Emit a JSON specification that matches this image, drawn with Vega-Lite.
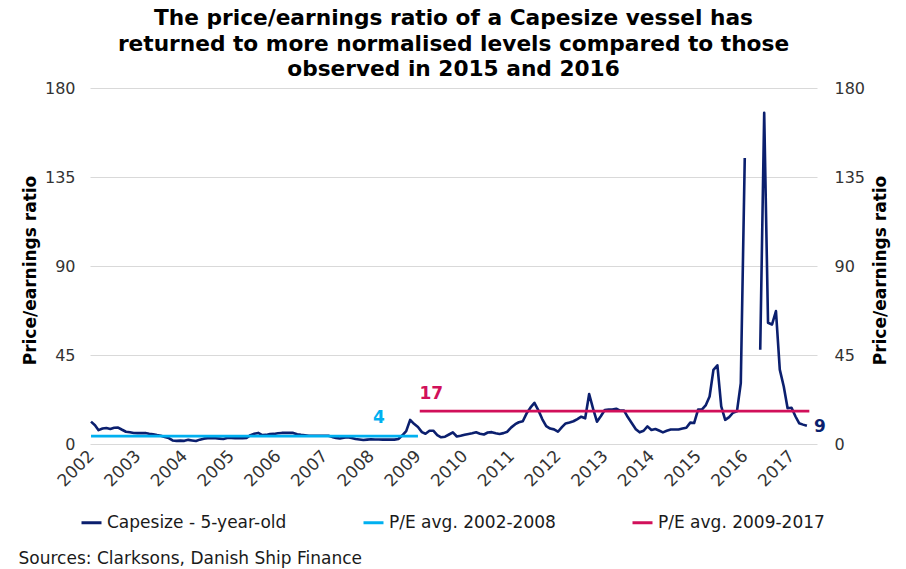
{
  "$schema": "https://vega.github.io/schema/vega-lite/v6.json",
  "autosize": {"type": "none"},
  "width": 727,
  "height": 356,
  "padding": {"left": 90, "top": 88, "right": 89, "bottom": 125},
  "background": "white",
  "config": {
    "view": {"stroke": null},
    "font": "DejaVu Sans",
    "axis": {"labelFont": "DejaVu Sans", "titleFont": "DejaVu Sans"},
    "legend": {"labelFont": "DejaVu Sans", "labelLimit": 400}
  },
  "title": {
    "text": ["The price/earnings ratio of a Capesize vessel has", "returned to more normalised levels compared to those", "observed in 2015 and 2016"],
    "font": "DejaVu Sans",
    "fontSize": 21.7,
    "fontWeight": "bold",
    "lineHeight": 25.5,
    "anchor": "middle",
    "color": "#000000",
    "offset": -1
  },
  "layer": [
    {
      "data": {"values": [
        {"date": "2002-01-01", "pe": 11.3}, {"date": "2002-02-01", "pe": 9.5}, {"date": "2002-03-01", "pe": 7.0}, {"date": "2002-04-01", "pe": 7.8}, {"date": "2002-05-01", "pe": 8.1}, {"date": "2002-06-01", "pe": 7.6}, {"date": "2002-07-01", "pe": 8.2}, {"date": "2002-08-01", "pe": 8.3}, {"date": "2002-09-01", "pe": 7.2}, {"date": "2002-10-01", "pe": 6.2}, {"date": "2002-11-01", "pe": 5.9}, {"date": "2002-12-01", "pe": 5.6},
        {"date": "2003-01-01", "pe": 5.5}, {"date": "2003-02-01", "pe": 5.5}, {"date": "2003-03-01", "pe": 5.6}, {"date": "2003-04-01", "pe": 5.2}, {"date": "2003-05-01", "pe": 4.9}, {"date": "2003-06-01", "pe": 4.5}, {"date": "2003-07-01", "pe": 4.2}, {"date": "2003-08-01", "pe": 3.6}, {"date": "2003-09-01", "pe": 3.0}, {"date": "2003-10-01", "pe": 1.8}, {"date": "2003-11-01", "pe": 1.6}, {"date": "2003-12-01", "pe": 1.7},
        {"date": "2004-01-01", "pe": 1.6}, {"date": "2004-02-01", "pe": 2.1}, {"date": "2004-03-01", "pe": 1.8}, {"date": "2004-04-01", "pe": 1.5}, {"date": "2004-05-01", "pe": 2.2}, {"date": "2004-06-01", "pe": 2.7}, {"date": "2004-07-01", "pe": 2.9}, {"date": "2004-08-01", "pe": 3.0}, {"date": "2004-09-01", "pe": 2.9}, {"date": "2004-10-01", "pe": 2.7}, {"date": "2004-11-01", "pe": 2.5}, {"date": "2004-12-01", "pe": 3.0},
        {"date": "2005-01-01", "pe": 3.0}, {"date": "2005-02-01", "pe": 2.9}, {"date": "2005-03-01", "pe": 2.9}, {"date": "2005-04-01", "pe": 2.9}, {"date": "2005-05-01", "pe": 3.0}, {"date": "2005-06-01", "pe": 4.5}, {"date": "2005-07-01", "pe": 5.2}, {"date": "2005-08-01", "pe": 5.6}, {"date": "2005-09-01", "pe": 4.5}, {"date": "2005-10-01", "pe": 4.6}, {"date": "2005-11-01", "pe": 5.0}, {"date": "2005-12-01", "pe": 5.1},
        {"date": "2006-01-01", "pe": 5.4}, {"date": "2006-02-01", "pe": 5.6}, {"date": "2006-03-01", "pe": 5.6}, {"date": "2006-04-01", "pe": 5.6}, {"date": "2006-05-01", "pe": 5.6}, {"date": "2006-06-01", "pe": 4.9}, {"date": "2006-07-01", "pe": 4.6}, {"date": "2006-08-01", "pe": 4.4}, {"date": "2006-09-01", "pe": 4.2}, {"date": "2006-10-01", "pe": 4.2}, {"date": "2006-11-01", "pe": 4.2}, {"date": "2006-12-01", "pe": 4.2},
        {"date": "2007-01-01", "pe": 4.2}, {"date": "2007-02-01", "pe": 4.2}, {"date": "2007-03-01", "pe": 3.6}, {"date": "2007-04-01", "pe": 3.1}, {"date": "2007-05-01", "pe": 2.8}, {"date": "2007-06-01", "pe": 3.2}, {"date": "2007-07-01", "pe": 3.4}, {"date": "2007-08-01", "pe": 3.0}, {"date": "2007-09-01", "pe": 2.5}, {"date": "2007-10-01", "pe": 2.3}, {"date": "2007-11-01", "pe": 2.0}, {"date": "2007-12-01", "pe": 2.2},
        {"date": "2008-01-01", "pe": 2.4}, {"date": "2008-02-01", "pe": 2.3}, {"date": "2008-03-01", "pe": 2.3}, {"date": "2008-04-01", "pe": 2.2}, {"date": "2008-05-01", "pe": 2.2}, {"date": "2008-06-01", "pe": 2.2}, {"date": "2008-07-01", "pe": 2.2}, {"date": "2008-08-01", "pe": 2.5}, {"date": "2008-09-01", "pe": 4.4}, {"date": "2008-10-01", "pe": 6.5}, {"date": "2008-11-01", "pe": 12.2}, {"date": "2008-12-01", "pe": 10.2},
        {"date": "2009-01-01", "pe": 8.6}, {"date": "2009-02-01", "pe": 6.0}, {"date": "2009-03-01", "pe": 5.2}, {"date": "2009-04-01", "pe": 6.7}, {"date": "2009-05-01", "pe": 6.7}, {"date": "2009-06-01", "pe": 4.5}, {"date": "2009-07-01", "pe": 3.4}, {"date": "2009-08-01", "pe": 3.7}, {"date": "2009-09-01", "pe": 4.8}, {"date": "2009-10-01", "pe": 5.9}, {"date": "2009-11-01", "pe": 3.8}, {"date": "2009-12-01", "pe": 4.2},
        {"date": "2010-01-01", "pe": 4.7}, {"date": "2010-02-01", "pe": 5.1}, {"date": "2010-03-01", "pe": 5.4}, {"date": "2010-04-01", "pe": 5.9}, {"date": "2010-05-01", "pe": 5.2}, {"date": "2010-06-01", "pe": 4.8}, {"date": "2010-07-01", "pe": 5.8}, {"date": "2010-08-01", "pe": 6.0}, {"date": "2010-09-01", "pe": 5.4}, {"date": "2010-10-01", "pe": 5.1}, {"date": "2010-11-01", "pe": 5.5}, {"date": "2010-12-01", "pe": 6.2},
        {"date": "2011-01-01", "pe": 8.4}, {"date": "2011-02-01", "pe": 10.0}, {"date": "2011-03-01", "pe": 11.0}, {"date": "2011-04-01", "pe": 11.5}, {"date": "2011-05-01", "pe": 15.5}, {"date": "2011-06-01", "pe": 18.5}, {"date": "2011-07-01", "pe": 20.8}, {"date": "2011-08-01", "pe": 17.0}, {"date": "2011-09-01", "pe": 12.5}, {"date": "2011-10-01", "pe": 9.0}, {"date": "2011-11-01", "pe": 7.8}, {"date": "2011-12-01", "pe": 7.4},
        {"date": "2012-01-01", "pe": 6.2}, {"date": "2012-02-01", "pe": 8.5}, {"date": "2012-03-01", "pe": 10.4}, {"date": "2012-04-01", "pe": 10.9}, {"date": "2012-05-01", "pe": 11.5}, {"date": "2012-06-01", "pe": 12.6}, {"date": "2012-07-01", "pe": 13.8}, {"date": "2012-08-01", "pe": 13.0}, {"date": "2012-09-01", "pe": 25.3}, {"date": "2012-10-01", "pe": 18.0}, {"date": "2012-11-01", "pe": 11.3}, {"date": "2012-12-01", "pe": 14.0},
        {"date": "2013-01-01", "pe": 17.2}, {"date": "2013-02-01", "pe": 17.4}, {"date": "2013-03-01", "pe": 17.4}, {"date": "2013-04-01", "pe": 17.8}, {"date": "2013-05-01", "pe": 16.9}, {"date": "2013-06-01", "pe": 16.9}, {"date": "2013-07-01", "pe": 13.5}, {"date": "2013-08-01", "pe": 10.5}, {"date": "2013-09-01", "pe": 7.5}, {"date": "2013-10-01", "pe": 5.9}, {"date": "2013-11-01", "pe": 6.7}, {"date": "2013-12-01", "pe": 8.9},
        {"date": "2014-01-01", "pe": 7.1}, {"date": "2014-02-01", "pe": 7.6}, {"date": "2014-03-01", "pe": 6.8}, {"date": "2014-04-01", "pe": 5.9}, {"date": "2014-05-01", "pe": 6.7}, {"date": "2014-06-01", "pe": 7.3}, {"date": "2014-07-01", "pe": 7.3}, {"date": "2014-08-01", "pe": 7.3}, {"date": "2014-09-01", "pe": 7.8}, {"date": "2014-10-01", "pe": 8.2}, {"date": "2014-11-01", "pe": 10.8}, {"date": "2014-12-01", "pe": 10.6},
        {"date": "2015-01-01", "pe": 17.4}, {"date": "2015-02-01", "pe": 17.5}, {"date": "2015-03-01", "pe": 19.5}, {"date": "2015-04-01", "pe": 24.0}, {"date": "2015-05-01", "pe": 37.5}, {"date": "2015-06-01", "pe": 39.8}, {"date": "2015-07-01", "pe": 19.0}, {"date": "2015-08-01", "pe": 12.2}, {"date": "2015-09-01", "pe": 13.6}, {"date": "2015-10-01", "pe": 15.8}, {"date": "2015-11-01", "pe": 16.5}, {"date": "2015-12-01", "pe": 30.8},
        {"date": "2016-01-01", "pe": 144.6}, {"date": "2016-02-01", "pe": null}, {"date": "2016-03-01", "pe": null}, {"date": "2016-04-01", "pe": null}, {"date": "2016-05-01", "pe": 47.7}, {"date": "2016-06-01", "pe": 167.5}, {"date": "2016-07-01", "pe": 61.3}, {"date": "2016-08-01", "pe": 60.4}, {"date": "2016-09-01", "pe": 67.2}, {"date": "2016-10-01", "pe": 37.6}, {"date": "2016-11-01", "pe": 29.1}, {"date": "2016-12-01", "pe": 18.1},
        {"date": "2017-01-01", "pe": 18.3}, {"date": "2017-02-01", "pe": 13.9}, {"date": "2017-03-01", "pe": 10.5}, {"date": "2017-04-01", "pe": 9.8}, {"date": "2017-05-01", "pe": 9.2}
      ]},
      "mark": {"type": "line", "strokeWidth": 2.6, "strokeJoin": "round", "invalid": "break-paths-show-domains"},
      "encoding": {
        "x": {
          "field": "date", "type": "temporal",
          "scale": {"type": "utc", "domain": ["2001-12-24", "2017-07-19"]},
          "axis": {
            "title": "Sources: Clarksons, Danish Ship Finance",
            "titleFontSize": 17, "titleFontWeight": "normal", "titleColor": "#1a1a1a",
            "titleAnchor": "start", "titleAlign": "left", "titleBaseline": "middle",
            "titleX": -72, "titleY": 114,
            "format": "%Y", "tickCount": {"interval": "year", "step": 1},
            "labelAngle": -45, "labelAlign": "right", "labelBaseline": "middle", "labelPadding": 9,
            "labelFontSize": 17, "labelColor": "#333333", "labelOverlap": false, "labelFlush": false,
            "ticks": false, "domain": false, "grid": false
          }
        },
        "y": {
          "field": "pe", "type": "quantitative",
          "scale": {"domain": [0, 180], "nice": false},
          "axis": {
            "title": "Price/earnings ratio", "titleFontSize": 17, "titleFontWeight": "bold", "titleColor": "#000000",
            "titleAngle": -90, "titleX": -60, "titleY": 182, "titleAlign": "center", "titleBaseline": "middle",
            "values": [0, 45, 90, 135, 180], "labelFontSize": 16, "labelColor": "#333333", "labelPadding": 15,
            "ticks": false, "domain": false, "grid": true, "gridColor": "#d9d9d9", "gridWidth": 1
          }
        },
        "color": {
          "datum": "Capesize - 5-year-old",
          "type": "nominal",
          "scale": {"domain": ["Capesize - 5-year-old", "P/E avg. 2002-2008", "P/E avg. 2009-2017"], "range": ["#0b1f6e", "#00b0f0", "#d1105a"]},
          "legend": {
            "title": null, "orient": "none", "legendX": -10, "legendY": 423, "direction": "horizontal",
            "symbolType": "stroke", "symbolSize": 400, "symbolStrokeWidth": 3,
            "labelFontSize": 17, "labelColor": "#1a1a1a", "columnPadding": 70, "labelOffset": 4, "labelLimit": 400
          }
        }
      }
    },
    {
      "data": {"values": [
        {"date": "2002-01-01", "pe": 4, "series": "P/E avg. 2002-2008"},
        {"date": "2009-01-01", "pe": 4, "series": "P/E avg. 2002-2008"},
        {"date": "2009-01-15", "pe": 16.6, "series": "P/E avg. 2009-2017"},
        {"date": "2017-05-20", "pe": 16.6, "series": "P/E avg. 2009-2017"}
      ]},
      "mark": {"type": "line", "strokeWidth": 2.6},
      "encoding": {
        "x": {"field": "date", "type": "temporal"},
        "y": {
          "field": "pe", "type": "quantitative",
          "scale": {"domain": [0, 180], "nice": false},
          "axis": {
            "orient": "right",
            "title": "Price/earnings ratio", "titleFontSize": 17, "titleFontWeight": "bold", "titleColor": "#000000",
            "titleAngle": -90, "titleX": 63, "titleY": 182, "titleAlign": "center", "titleBaseline": "middle",
            "values": [0, 45, 90, 135, 180], "labelFontSize": 16, "labelColor": "#333333", "labelPadding": 17,
            "ticks": false, "domain": false, "grid": false
          }
        },
        "color": {
          "field": "series", "type": "nominal",
          "legend": {
            "title": null, "orient": "none", "legendX": -10, "legendY": 423, "direction": "horizontal",
            "symbolType": "stroke", "symbolSize": 400, "symbolStrokeWidth": 3,
            "labelFontSize": 17, "labelColor": "#1a1a1a", "columnPadding": 70, "labelOffset": 4, "labelLimit": 400
          }
        }
      }
    },
    {
      "data": {"values": [{"date": "2008-03-01", "pe": 4, "label": "4"}]},
      "mark": {"type": "text", "fontWeight": "bold", "fontSize": 17, "color": "#00b0f0", "dy": -18, "baseline": "middle", "align": "center"},
      "encoding": {
        "x": {"field": "date", "type": "temporal"},
        "y": {"field": "pe", "type": "quantitative", "scale": {"domain": [0, 180], "nice": false}, "axis": null},
        "text": {"field": "label"}
      }
    },
    {
      "data": {"values": [{"date": "2009-04-15", "pe": 16.6, "label": "17"}]},
      "mark": {"type": "text", "fontWeight": "bold", "fontSize": 17, "color": "#d1105a", "dy": -17, "baseline": "middle", "align": "center"},
      "encoding": {
        "x": {"field": "date", "type": "temporal"},
        "y": {"field": "pe", "type": "quantitative", "scale": {"domain": [0, 180], "nice": false}, "axis": null},
        "text": {"field": "label"}
      }
    },
    {
      "data": {"values": [{"date": "2017-05-01", "pe": 9.2, "label": "9"}]},
      "mark": {"type": "text", "fontWeight": "bold", "fontSize": 17, "color": "#0b1f6e", "dx": 7, "dy": 1, "baseline": "middle", "align": "left"},
      "encoding": {
        "x": {"field": "date", "type": "temporal"},
        "y": {"field": "pe", "type": "quantitative", "scale": {"domain": [0, 180], "nice": false}, "axis": null},
        "text": {"field": "label"}
      }
    }
  ],
  "resolve": {"scale": {"y": "independent"}}
}
